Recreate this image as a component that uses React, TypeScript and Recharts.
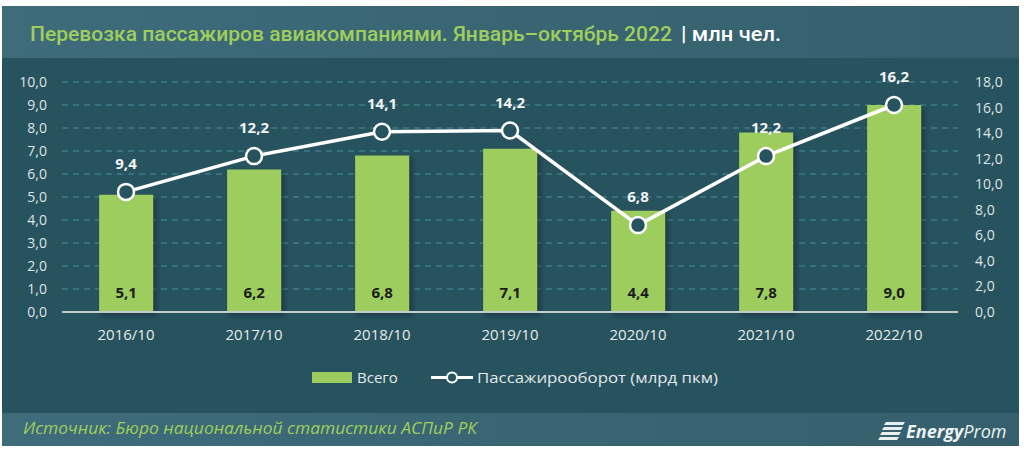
import React from 'react';
import { ComposedChart, Bar, Line, XAxis, YAxis, CartesianGrid, LabelList, Legend, Rectangle } from 'recharts';

const categories = ['2016/10', '2017/10', '2018/10', '2019/10', '2020/10', '2021/10', '2022/10'];
const totalPassengers = [5.1, 6.2, 6.8, 7.1, 4.4, 7.8, 9.0];
const passengerTurnover = [9.4, 12.2, 14.1, 14.2, 6.8, 12.2, 16.2];
const leftTicks = [0, 1, 2, 3, 4, 5, 6, 7, 8, 9, 10];
const rightTicks = [0, 2, 4, 6, 8, 10, 12, 14, 16, 18];

const titleText = 'Перевозка пассажиров авиакомпаниями. Январь–октябрь 2022';
const unitText = '| млн чел.';
const sourceText = 'Источник: Бюро национальной статистики АСПиР РК';
const barName = 'Всего';
const lineName = 'Пассажирооборот (млрд пкм)';

const data = categories.map((c, i) => ({ cat: c, total: totalPassengers[i], turnover: passengerTurnover[i] }));

const fmt = (v: number) => v.toFixed(1).replace('.', ',');

const GREEN = '#9dcc5e';
const BG = '#27535f';
const FONT = '"Open Sans", sans-serif';

const BarLabel = (props: any) => {
  const { x, y, width, height, value } = props;
  return (
    <text x={x + width / 2} y={y + height - 14} textAnchor="middle" fontFamily={FONT} fontWeight={700} fontSize={15} fill="#1c1c1c">
      {fmt(value)}
    </text>
  );
};

const LineLabel = (props: any) => {
  const { x, y, value } = props;
  return (
    <text x={x} y={y - 23} textAnchor="middle" fontFamily={FONT} fontWeight={700} fontSize={15} fill="#f2f4f4">
      {fmt(value)}
    </text>
  );
};

const BarShape = (props: any) => <Rectangle {...props} filter="url(#barShadow)" />;

const LegendContent = () => (
  <svg width={1024} height={24}>
    <rect x={312} y={6} width={40} height={11} fill={GREEN} />
    <text x={357} y={17} fontFamily={FONT} fontSize={15} fill="#e3e8ea">{barName}</text>
    <line x1={431} y1={11.5} x2={473} y2={11.5} stroke="#ffffff" strokeWidth={3} />
    <circle cx={452} cy={11.5} r={5} fill={BG} stroke="#ffffff" strokeWidth={2} />
    <text x={477} y={17} fontFamily={FONT} fontSize={15} fill="#e3e8ea" textLength={241} lengthAdjust="spacingAndGlyphs">{lineName}</text>
  </svg>
);

export default function App() {
  return (
    <div style={{ position: 'absolute', left: 0, top: 0, width: 1024, height: 453, background: '#ffffff', overflow: 'hidden' }}>
      <div style={{ position: 'absolute', left: 2, top: 6, width: 1017, height: 440, background: BG }} />
      <div style={{ position: 'absolute', left: 2, top: 6, width: 1017, height: 52, background: `linear-gradient(90deg, #3e6c7a, #355f6d)` }} />
      <div style={{ position: 'absolute', left: 2, top: 413, width: 1017, height: 33, background: `linear-gradient(90deg, #3e6c7a, #355f6d)` }} />
      <svg style={{ position: 'absolute', left: 0, top: 0 }} width={1024} height={58}>
        <text x={30} y={41} fontFamily="Roboto, sans-serif" fontWeight={500} fontSize={20} fill="#9fce5c" textLength={642} lengthAdjust="spacingAndGlyphs">{titleText}</text>
        <text x={681} y={41} fontFamily="Roboto, sans-serif" fontWeight={500} fontSize={20} fill="#ffffff" textLength={100} lengthAdjust="spacingAndGlyphs">{unitText}</text>
      </svg>
      <div style={{ position: 'absolute', left: 0, top: 58 }}>
        <ComposedChart width={1024} height={355} data={data} margin={{ top: 24, right: 0, bottom: 71, left: 0 }} barCategoryGap="29%">
          <defs>
            <filter id="barShadow" x="-20%" y="-20%" width="150%" height="150%">
              <feDropShadow dx={3} dy={3} stdDeviation={2.5} floodColor="#0b2026" floodOpacity={0.55} />
            </filter>
          </defs>
          <CartesianGrid yAxisId="left" vertical={false} stroke="#4a8ea0" strokeDasharray="6 5" strokeWidth={1} />
          <XAxis dataKey="cat" axisLine={{ stroke: '#c3cbce', strokeWidth: 2 }} tickLine={false} tickMargin={11} height={30}
            tick={{ fill: '#e6eaec', fontSize: 15, fontFamily: FONT }} interval={0} />
          <YAxis yAxisId="left" orientation="left" domain={[0, 10]} ticks={leftTicks} width={62} axisLine={false} tickLine={false}
            tickMargin={9} tickFormatter={fmt} tick={{ fill: '#dfe4e6', fontSize: 14, fontFamily: FONT }} interval={0} />
          <YAxis yAxisId="right" orientation="right" domain={[0, 18]} ticks={rightTicks} width={66} axisLine={false} tickLine={false}
            tickMargin={11} tickFormatter={fmt} tick={{ fill: '#dfe4e6', fontSize: 14, fontFamily: FONT, textAnchor: 'start' }} interval={0} />
          <Bar yAxisId="left" dataKey="total" name={barName} fill={GREEN} isAnimationActive={false} shape={BarShape}>
            <LabelList dataKey="total" content={BarLabel} />
          </Bar>
          <Line yAxisId="right" dataKey="turnover" name={lineName} stroke="#ffffff" strokeWidth={3.5} isAnimationActive={false}
            dot={{ r: 8, fill: BG, stroke: '#ffffff', strokeWidth: 2.5 }} activeDot={false}>
            <LabelList dataKey="turnover" content={LineLabel} />
          </Line>
          <Legend verticalAlign="middle" align="center" content={LegendContent} wrapperStyle={{ top: 308, left: 0, width: 1024, height: 24 }} />
        </ComposedChart>
      </div>
      <svg style={{ position: 'absolute', left: 0, top: 413 }} width={1024} height={33}>
        <text x={23} y={21} fontFamily={FONT} fontStyle="italic" fontSize={16} fill="#9fce5c" textLength={454} lengthAdjust="spacingAndGlyphs">{sourceText}</text>
        <g fill="#e9eef0">
          <polygon points="886,9 905,9 903,12 884,12" />
          <polygon points="884,14 903,14 901,17 882,17" />
          <polygon points="882,19 901,19 899,22 880,22" />
          <polygon points="880,24 899,24 897,27 878,27" />
        </g>
        <text x={906} y={25} fontFamily={FONT} fontStyle="italic" fontSize={18} fill="#eef2f3">
          <tspan fontWeight={700}>Energy</tspan><tspan fontWeight={400}>Prom</tspan>
        </text>
      </svg>
    </div>
  );
}
